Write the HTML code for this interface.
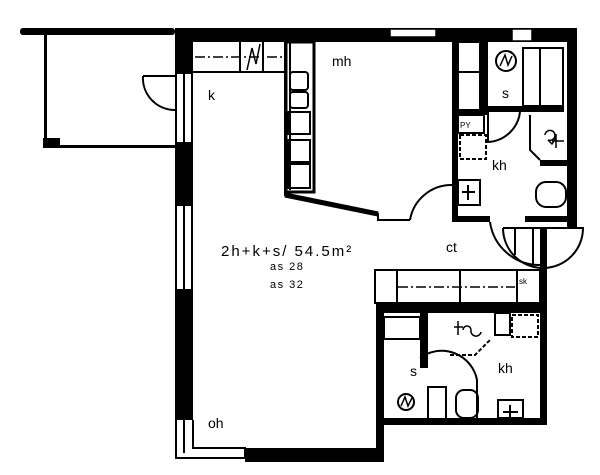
<!DOCTYPE html>
<html><head><style>
html,body{margin:0;padding:0;background:#fff;width:600px;height:475px;overflow:hidden}
svg text{font-family:"Liberation Sans",sans-serif;fill:#000}
</style></head><body>
<svg width="600" height="475" viewBox="0 0 600 475" xmlns="http://www.w3.org/2000/svg">
<g fill="#000">
<rect x="20" y="28" width="155" height="7" rx="3"/>
<rect x="175" y="28" width="402" height="14"/>
<rect x="390" y="29" width="46" height="8" fill="#fff" stroke="#000" stroke-width="1.5"/>
<rect x="512" y="29" width="20" height="12" fill="#fff" stroke="#000" stroke-width="1.5"/>
<rect x="44" y="34" width="3" height="112"/>
<rect x="43" y="138" width="17" height="10"/>
<rect x="58" y="145" width="117" height="3"/>
<rect x="175" y="28" width="18" height="45"/>
<rect x="175" y="143" width="18" height="62"/>
<rect x="175" y="290" width="18" height="130"/>
<rect x="245" y="448" width="137" height="14"/>
<rect x="376" y="303" width="8" height="159"/>
<rect x="376" y="303" width="171" height="10"/>
<rect x="540" y="228" width="7" height="197"/>
<rect x="376" y="418" width="171" height="7"/>
<rect x="420" y="313" width="8" height="55"/>
<rect x="452" y="42" width="6" height="180"/>
<rect x="452" y="216" width="38" height="6"/>
<rect x="567" y="28" width="10" height="200"/>
<rect x="525" y="216" width="52" height="6"/>
<rect x="480" y="42" width="8" height="70"/>
<rect x="488" y="106" width="76" height="6"/>
<rect x="458" y="110" width="30" height="5"/>
<rect x="540" y="160" width="27" height="6"/>
</g>
<g fill="none" stroke="#000" stroke-width="2">
<rect x="176" y="73" width="16" height="70"/>
<line x1="184" y1="73" x2="184" y2="143"/>
<rect x="176" y="205" width="16" height="85"/>
<line x1="184" y1="205" x2="184" y2="290"/>
<path d="M176 420 V458 H245 V448 H193 V420"/>
<line x1="184" y1="420" x2="184" y2="453"/>
<path d="M143 76 H175 M143 76 A32 32 0 0 0 175 110"/>
<path d="M193 72 H285 M240 42 V72 M263 42 V72"/>
<path d="M247 70 L252 48 L256 64 L260 44" stroke-width="1.5"/>
<line x1="195" y1="57" x2="284" y2="57" stroke-dasharray="10,3,2,3" stroke-width="1.5"/>
<path d="M285 42 V195 L378 214 V220 H410 M290 42 V190"/>
<rect x="286" y="42" width="28" height="150" stroke-width="3"/>
<rect x="290" y="72" width="18" height="18" rx="3"/>
<rect x="290" y="92" width="18" height="16" rx="3"/>
<rect x="288" y="112" width="22" height="22"/>
<rect x="288" y="140" width="22" height="22"/>
<rect x="288" y="164" width="22" height="24"/>
<path d="M410 220 A42 42 0 0 1 452 185"/>
<path d="M285 195 L378 214" stroke-width="5"/>
<rect x="458" y="42" width="22" height="68"/>
<line x1="458" y1="72" x2="480" y2="72"/>
<rect x="523" y="48" width="40" height="58"/>
<line x1="540" y1="48" x2="540" y2="106"/>
<circle cx="506" cy="61" r="10"/>
<path d="M500 66 L505 55 L508 65 L512 56" stroke-width="1.5"/>
<path d="M488 112 V142 A34 34 0 0 0 520 112"/>
<rect x="458" y="115" width="26" height="18"/>
<rect x="460" y="135" width="26" height="24" stroke-dasharray="4,2"/>
<rect x="458" y="180" width="22" height="25"/>
<path d="M462 192 H475 M468 185 V200"/>
<path d="M530 115 V150 L540 160"/>
<rect x="536" y="182" width="30" height="25" rx="10"/>
<path d="M545 135 a5 5 0 1 1 3 5 l4 4 l4 -6 M556 134 V148 M552 141 H564" stroke-width="1.5"/>
<path d="M490 222 A50 50 0 0 0 540 265"/>
<path d="M503 228 H583 A40 40 0 0 1 503 228"/>
<path d="M515 228 V255 M533 228 V265"/>
<rect x="375" y="270" width="165" height="33"/>
<path d="M397 270 V303 M460 270 V303 M517 270 V303"/>
<line x1="398" y1="287" x2="515" y2="287" stroke-dasharray="10,3,2,3" stroke-width="1.5"/>
<rect x="384" y="317" width="36" height="22"/>
<line x1="384" y1="339" x2="420" y2="339"/>
<path d="M420 358 A36 36 0 0 1 477 380 V420"/>
<rect x="428" y="387" width="18" height="32"/>
<rect x="456" y="390" width="22" height="28" rx="8"/>
<circle cx="406" cy="402" r="8"/>
<path d="M401 406 L405 397 L408 406 L412 398" stroke-width="1.5"/>
<rect x="498" y="400" width="25" height="18"/>
<path d="M510 405 V418 M503 412 H518"/>
<rect x="495" y="313" width="15" height="22"/>
<rect x="512" y="315" width="26" height="22" stroke-dasharray="4,2"/>
<path d="M454 327 H463 M458 321 V335 M463 330 a4 4 0 1 1 8 0 a5 5 0 1 0 10 2" stroke-width="1.5"/>
<path d="M450 355 H475 L490 340" stroke-dasharray="4,2"/>
</g>
<g font-size="14">
<text x="208" y="100">k</text>
<text x="332" y="66">mh</text>
<text x="502" y="98">s</text>
<text x="492" y="170">kh</text>
<text x="446" y="252">ct</text>
<text x="221" y="256" font-size="15" letter-spacing="2">2h+k+s/ 54.5m²</text>
<text x="270" y="270" font-size="11" letter-spacing="1.5">as 28</text>
<text x="270" y="288" font-size="11" letter-spacing="1.5">as 32</text>
<text x="208" y="428">oh</text>
<text x="410" y="376">s</text>
<text x="498" y="373">kh</text>
<text x="519" y="284" font-size="8">sk</text>
<text x="460" y="128" font-size="8">PY</text>
</g>
</svg>
</body></html>
